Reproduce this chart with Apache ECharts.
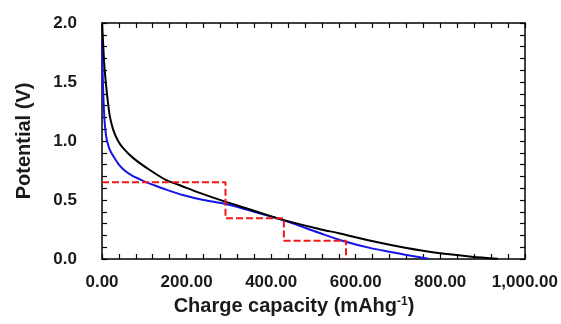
<!DOCTYPE html>
<html><head><meta charset="utf-8">
<script src="https://cdn.jsdelivr.net/npm/echarts@6/dist/echarts.min.js"></script>
<style>html,body{margin:0;padding:0;background:#fff}#c{width:561px;height:324px}</style>
</head><body><div id="c"></div>
<script>
// Charge capacity (mAh/g) and potential (V)
const blackX = [0.5, 3, 6, 10, 14, 19, 27, 38, 50, 74, 113, 152, 184, 231, 293, 350, 423, 513, 560, 638, 717, 795, 874, 936];
const blackY = [1.99, 1.8, 1.62, 1.46, 1.33, 1.2, 1.09, 1.0, 0.94, 0.855, 0.754, 0.668, 0.625, 0.56, 0.484, 0.42, 0.336, 0.255, 0.218, 0.152, 0.095, 0.05, 0.02, 0.003];
const blueX = [0, 1, 2, 3, 4.5, 6.5, 9, 12, 18, 27, 40, 55, 72, 90, 105, 125, 152, 191, 240, 293, 350, 423, 513, 568, 638, 685, 717, 772];
const blueY = [1.86, 1.68, 1.52, 1.4, 1.27, 1.15, 1.06, 1.0, 0.93, 0.87, 0.8, 0.745, 0.705, 0.675, 0.65, 0.623, 0.588, 0.542, 0.5, 0.466, 0.41, 0.336, 0.222, 0.155, 0.09, 0.058, 0.036, 0.003];
const stepX = [0, 292, 292, 430, 430, 577, 577];
const stepY = [0.65, 0.65, 0.345, 0.345, 0.155, 0.155, 0];
const xMin = 0, xMax = 1000, xTick = 40, xLabelEvery = 200;
const yMin = 0, yMax = 2.0, yTick = 0.1, yLabelEvery = 0.5;
const xTitle = 'Charge capacity (mAhg';
const xTitleSup = '-1';
const yTitle = 'Potential (V)';

const pairs = (xs, ys) => xs.map((x, i) => [x, ys[i]]);
const font = '"Liberation Sans", Arial, sans-serif';
const txt = '#1a1a1a';

const chart = echarts.init(document.getElementById('c'), null, {renderer: 'canvas'});
const tickStyle = {show: true, inside: true, length: 5, lineStyle: {color: '#000', width: 1.2}};
const lineStyle = {show: true, onZero: false, lineStyle: {color: '#000', width: 1.5}};
chart.setOption({
  animation: false,
  backgroundColor: '#fff',
  grid: {left: 102, right: 34, top: 23, bottom: 65, containLabel: false},
  xAxis: [{
    type: 'value', min: xMin, max: xMax, interval: xTick, position: 'bottom',
    axisLine: lineStyle, axisTick: tickStyle, splitLine: {show: false},
    axisLabel: {
      show: true, margin: 15, color: txt, fontFamily: font, fontWeight: 'bold', fontSize: 17,
      formatter: v => (Math.round(v) % xLabelEvery === 0) ? v.toLocaleString('en-US', {minimumFractionDigits: 2, maximumFractionDigits: 2}) : ''
    }
  }, {
    type: 'value', min: xMin, max: xMax, interval: xTick, position: 'top',
    axisLine: lineStyle, axisTick: tickStyle, splitLine: {show: false}, axisLabel: {show: false}
  }],
  yAxis: [{
    type: 'value', min: yMin, max: yMax, interval: yTick, position: 'left',
    axisLine: lineStyle, axisTick: tickStyle, splitLine: {show: false},
    axisLabel: {
      show: true, margin: 25, color: txt, fontFamily: font, fontWeight: 'bold', fontSize: 17,
      formatter: v => (Math.abs(Math.round(v * 10) % (yLabelEvery * 10)) < 1e-6) ? v.toFixed(1) : ''
    }
  }, {
    type: 'value', min: yMin, max: yMax, interval: yTick, position: 'right',
    axisLine: lineStyle, axisTick: tickStyle, splitLine: {show: false}, axisLabel: {show: false}
  }],
  graphic: [
    {type: 'text', x: 294, y: 306, style: {
      text: '{a|' + xTitle + '}{s|' + xTitleSup + '}{a|)}',
      rich: {
        a: {fontFamily: font, fontWeight: 'bold', fontSize: 20, fill: txt},
        s: {fontFamily: font, fontWeight: 'bold', fontSize: 12, fill: txt, verticalAlign: 'top', padding: [0, 0, 8, 0]}
      },
      align: 'center', verticalAlign: 'middle'
    }},
    {type: 'text', x: 24, y: 141, rotation: Math.PI / 2, style: {
      text: yTitle, fontFamily: font, fontWeight: 'bold', fontSize: 20, fill: txt,
      align: 'center', verticalAlign: 'middle'
    }}
  ],
  series: [
    {type: 'line', name: 'black', data: pairs(blackX, blackY), smooth: 0.3, showSymbol: false,
     lineStyle: {color: '#000', width: 2}, z: 3},
    {type: 'line', name: 'blue', data: pairs(blueX, blueY), smooth: 0.3, showSymbol: false,
     lineStyle: {color: '#1414e6', width: 2}, z: 2},
    {type: 'line', name: 'step', data: pairs(stepX, stepY), smooth: false, showSymbol: false,
     lineStyle: {color: '#f01818', width: 2, type: [7, 3]}, z: 4}
  ]
});
</script></body></html>
